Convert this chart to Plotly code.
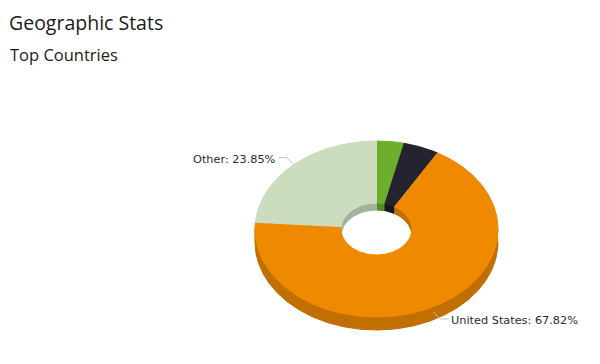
import numpy as np
import plotly.graph_objects as go

# ---- data ----
countries = ["Country A", "Country B", "United States", "Other"]
shares = [3.60, 4.73, 67.82, 23.85]
show_label = [False, False, True, True]

# ---- style ----
top_colors = ["#6cae2e", "#23242f", "#ef8a00", "#cbdcbf"]
side_colors = ["#558c24", "#17181f", "#c06f00", "#a4b19b"]

W, H = 600, 364
OFF = 8                          # page body margin, so axis units == window pixels
cx, cy = 376.5, 229.0          # centre of the top face
rx, ry = 121.5, 88.0           # outer radii
irx, iry = 35.5, 26.0          # inner (hole) radii
d_out, d_in = 13.0, 7.0        # visible thickness of outer / inner walls

total = sum(shares)
edges = np.concatenate([[0], np.cumsum(shares)]) / total * 360.0


def arc(a0, a1, rxx, ryy, dy=0.0, n=None):
    if n is None:
        n = max(int(abs(a1 - a0) * 1.5) + 2, 3)
    t = np.radians(np.linspace(a0, a1, n))
    return cx + rxx * np.sin(t), cy + dy - ryy * np.cos(t)


def clip(a0, a1, intervals):
    out = []
    for lo, hi in intervals:
        s, e = max(a0, lo), min(a1, hi)
        if e > s:
            out.append((s, e))
    return out


fig = go.Figure()

# outer side walls (front half: 90..270 deg)
for i in range(len(shares)):
    for s, e in clip(edges[i], edges[i + 1], [(90, 270)]):
        x1, y1 = arc(s, e, rx, ry)
        x2, y2 = arc(e, s, rx, ry, d_out)
        fig.add_trace(go.Scatter(x=np.r_[x1, x2], y=np.r_[y1, y2], fill="toself",
                                 mode="lines", line=dict(color=side_colors[i], width=1),
                                 fillcolor=side_colors[i], hoverinfo="skip", showlegend=False))

# inner walls (back half seen through the hole)
for i in range(len(shares)):
    for s, e in clip(edges[i], edges[i + 1], [(0, 90), (270, 360)]):
        x1, y1 = arc(s, e, irx, iry)
        x2, y2 = arc(e, s, irx, iry, d_in)
        fig.add_trace(go.Scatter(x=np.r_[x1, x2], y=np.r_[y1, y2], fill="toself",
                                 mode="lines", line=dict(color=side_colors[i], width=1),
                                 fillcolor=side_colors[i], hoverinfo="skip", showlegend=False))

# top faces
for i in range(len(shares)):
    x1, y1 = arc(edges[i], edges[i + 1], rx, ry)
    x2, y2 = arc(edges[i + 1], edges[i], irx, iry)
    fig.add_trace(go.Scatter(x=np.r_[x1, x2], y=np.r_[y1, y2], fill="toself",
                             mode="lines", line=dict(color=top_colors[i], width=1),
                             fillcolor=top_colors[i], name=countries[i],
                             hoveron="fills", text=f"{countries[i]}: {shares[i]:.2f}%",
                             hoverinfo="text", showlegend=False))

# data labels with connectors
annotations = []
for i in range(len(shares)):
    if not show_label[i]:
        continue
    mid = (edges[i] + edges[i + 1]) / 2
    t = np.radians(mid)
    front = np.cos(t) < 0
    ax_ = cx + rx * np.sin(t)
    ay_ = cy - ry * np.cos(t) + (d_out * 0.4 if front else 0)
    right = np.sin(t) > 0
    sgn = 1 if right else -1
    ex, ey = ax_ + sgn * 7, ay_ + (7 if front else -7)
    fx = ex + sgn * 8
    fig.add_trace(go.Scatter(x=[ax_, ex, fx], y=[ay_, ey, ey], mode="lines",
                             line=dict(color="#c4c4c4", width=1),
                             hoverinfo="skip", showlegend=False))
    annotations.append(dict(x=fx + sgn * 1, y=ey + 1.5, xref="x", yref="y",
                            text=f"{countries[i]}: {shares[i]:.2f}%",
                            showarrow=False, xanchor="left" if right else "right",
                            yanchor="middle",
                            font=dict(family="DejaVu Sans", size=11.3, color="#2b2b2b")))

annotations.append(dict(x=0, y=1, xref="paper", yref="paper",
                        text="Geographic Stats", borderpad=0,
                        showarrow=False, xanchor="left", yanchor="top",
                        font=dict(family="Open Sans", size=19.5, color="#1a1a1a")))
annotations.append(dict(x=0, y=1 - 47 / H, xref="paper", yref="paper",
                        text="Top Countries",
                        showarrow=False, xanchor="left", yanchor="middle",
                        font=dict(family="Open Sans", size=16.5, color="#1a1a1a")))

fig.update_layout(
    width=W, height=H,
    margin=dict(l=0, r=0, t=0, b=0),
    paper_bgcolor="white", plot_bgcolor="white",
    xaxis=dict(range=[OFF, W + OFF], visible=False, fixedrange=True),
    yaxis=dict(range=[H + OFF, OFF], visible=False, fixedrange=True),
    annotations=annotations,
    hovermode="closest",
)

fig.write_html("out.html")
